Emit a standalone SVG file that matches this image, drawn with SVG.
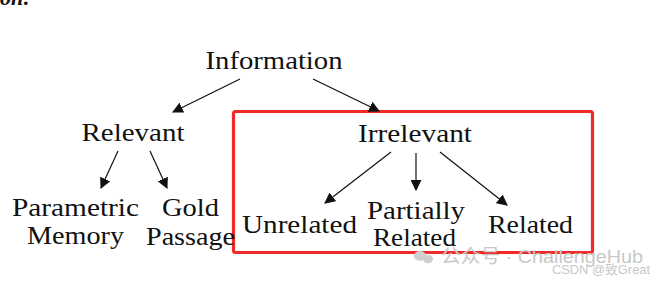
<svg xmlns="http://www.w3.org/2000/svg" width="665" height="284" viewBox="0 0 665 284">
  <style>
    .lbl { font-family: "Liberation Serif", "DejaVu Serif", serif; font-size: 26px; fill: #111; text-anchor: middle; }
    .edge { stroke: #111; stroke-width: 1.2; fill: none; marker-end: url(#head); }
    .box { fill: none; stroke: #f02a2a; stroke-width: 3.2; }
    .wm { font-family: "Liberation Sans", "Noto Sans CJK SC", sans-serif; fill: #c8c8c8; }
  </style>
  <defs>
    <marker id="head" viewBox="0 0 10 10" refX="9" refY="5" markerWidth="11" markerHeight="11" markerUnits="userSpaceOnUse" orient="auto">
      <path d="M0,0 L10,5 L0,10 Z" fill="#111"/>
    </marker>
  </defs>
  <rect width="665" height="284" fill="#fff"/>

  <!-- trailing heading fragment at the top edge -->
  <text x="0" y="5" font-family="Liberation Serif, serif" font-size="22" font-weight="bold" font-style="italic" fill="#111">on:</text>

  <!-- highlight frame around the irrelevant branch -->
  <rect class="box" x="233.5" y="111.5" width="359" height="141" rx="2"/>

  <g id="edges">
    <line class="edge" x1="240" y1="79" x2="173" y2="112"/>
    <line class="edge" x1="313" y1="79" x2="379" y2="111"/>
    <line class="edge" x1="118" y1="151" x2="101" y2="188"/>
    <line class="edge" x1="150" y1="151" x2="167" y2="188"/>
    <line class="edge" x1="391" y1="152" x2="325" y2="203"/>
    <line class="edge" x1="416" y1="153" x2="416" y2="190"/>
    <line class="edge" x1="440" y1="152" x2="507" y2="205"/>
  </g>

  <g id="information"><text class="lbl" x="274" y="69" textLength="137" lengthAdjust="spacingAndGlyphs">Information</text></g>
  <g id="relevant"><text class="lbl" x="133" y="141" textLength="103" lengthAdjust="spacingAndGlyphs">Relevant</text></g>
  <g id="irrelevant"><text class="lbl" x="415" y="142" textLength="114" lengthAdjust="spacingAndGlyphs">Irrelevant</text></g>
  <g id="parametric-memory">
    <text class="lbl" x="75.5" y="216" textLength="127" lengthAdjust="spacingAndGlyphs">Parametric</text>
    <text class="lbl" x="75.5" y="244" textLength="97" lengthAdjust="spacingAndGlyphs">Memory</text>
  </g>
  <g id="gold-passage">
    <text class="lbl" x="190.5" y="216" textLength="57" lengthAdjust="spacingAndGlyphs">Gold</text>
    <text class="lbl" x="190.5" y="245" textLength="89" lengthAdjust="spacingAndGlyphs">Passage</text>
  </g>
  <g id="unrelated"><text class="lbl" x="299.5" y="233" textLength="115" lengthAdjust="spacingAndGlyphs">Unrelated</text></g>
  <g id="partially-related">
    <text class="lbl" x="416" y="219" font-size="25" textLength="98" lengthAdjust="spacingAndGlyphs">Partially</text>
    <text class="lbl" x="414.5" y="246" font-size="25" textLength="83" lengthAdjust="spacingAndGlyphs">Related</text>
  </g>
  <g id="related"><text class="lbl" x="530.5" y="233" textLength="85" lengthAdjust="spacingAndGlyphs">Related</text></g>

  <!-- source watermark -->
  <g id="watermark">
    <ellipse cx="420" cy="256" rx="6" ry="5" fill="#cfcfcf"/>
    <ellipse cx="428" cy="259" rx="5" ry="4.2" fill="#cfcfcf"/>
    <text class="wm" x="441" y="263" font-size="19" textLength="202" lengthAdjust="spacingAndGlyphs">公众号 · ChallengeHub</text>
    <text class="wm" x="552" y="274" font-size="13" fill="#b0b0b0" textLength="98" lengthAdjust="spacingAndGlyphs">CSDN @致Great</text>
  </g>
</svg>
